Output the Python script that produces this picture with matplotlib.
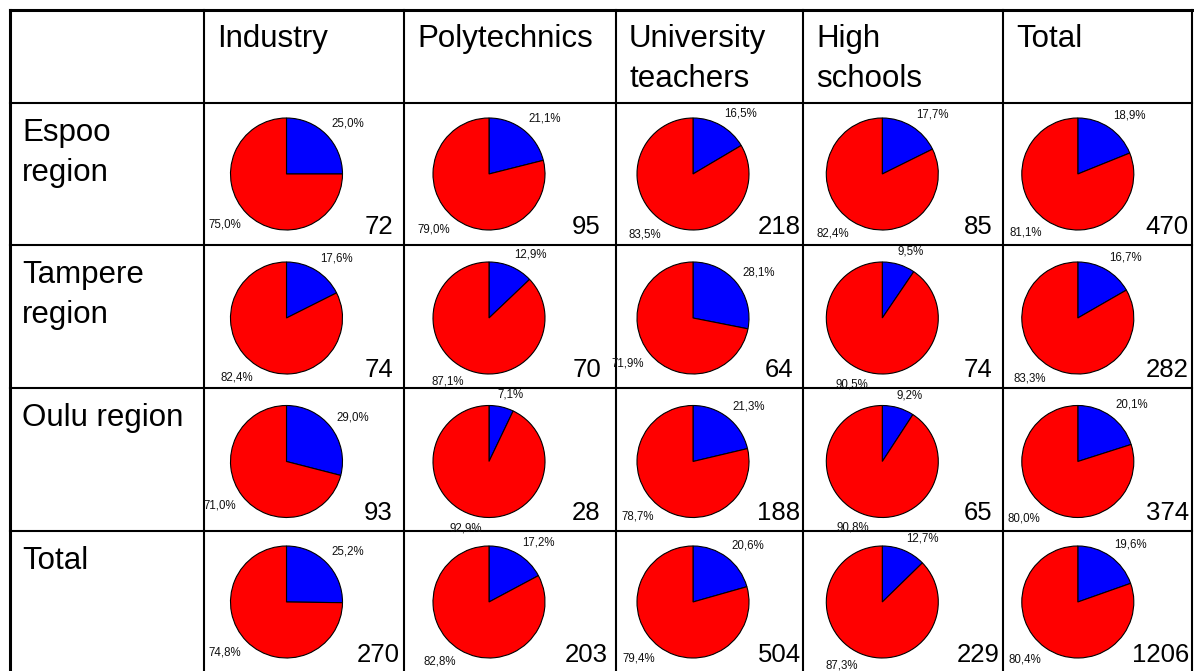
import numpy as np
import matplotlib
matplotlib.use("Agg")
import matplotlib.pyplot as plt

plt.rcParams['font.family'] = ['Liberation Sans', 'DejaVu Sans']

# data
columns = ["Industry", "Polytechnics", "University\nteachers", "High\nschools", "Total"]
regions = ["Espoo\nregion", "Tampere\nregion", "Oulu region", "Total"]

blue_pct = [
    [25.0, 21.1, 16.5, 17.7, 18.9],
    [17.6, 12.9, 28.1, 9.5, 16.7],
    [29.0, 7.1, 21.3, 9.2, 20.1],
    [25.2, 17.2, 20.6, 12.7, 19.6],
]
red_pct = [
    [75.0, 79.0, 83.5, 82.4, 81.1],
    [82.4, 87.1, 71.9, 90.5, 83.3],
    [71.0, 92.9, 78.7, 90.8, 80.0],
    [74.8, 82.8, 79.4, 87.3, 80.4],
]
counts = [
    [72, 95, 218, 85, 470],
    [74, 70, 64, 74, 282],
    [93, 28, 188, 65, 374],
    [270, 203, 504, 229, 1206],
]

# layout (pixels from top-left)
W, H = 1194, 671
col_edges = [10, 204, 404, 616, 803, 1003, 1192]
row_edges = [10, 103, 245, 388, 531, 673]
pie_dx = [82.5, 85, 77, 79.3, 74.8]      # pie centre from cell left
pie_dy = [71, 73, 73.5, 71]              # pie centre from cell top
num_dx = [174.5, 182.5, 163, 175, 186]   # count anchor from cell left
num_ha = ["center", "center", "center", "center", "right"]
radius = 56
gap = 7.5
pct_size = 8.3
pct_em = pct_size * 100 / 72
head_size = 22.5


def Y(py):
    return H - py


def fmt(v):
    return f"{v:.1f}".replace(".", ",") + "%"


def text_w(s):
    widths = {",": 0.278, "%": 0.889}
    return sum(widths.get(c, 0.556) for c in s) * pct_em


fig = plt.figure(figsize=(W / 100, H / 100), dpi=100)
ax = fig.add_axes([0, 0, 1, 1])

for i in range(len(regions)):
    for j in range(len(columns)):
        cx = col_edges[j + 1] + pie_dx[j]
        cy = row_edges[i + 1] + pie_dy[i]
        vals = [blue_pct[i][j], red_pct[i][j]]
        ax.pie(vals, colors=["#0000ff", "#ff0000"], startangle=90, counterclock=False,
               center=(cx, Y(cy)), radius=radius, frame=False,
               wedgeprops=dict(edgecolor="black", linewidth=0.8))

        # percentage labels just outside each slice
        tot = sum(vals)
        start = 0.0
        for v in vals:
            mid = np.deg2rad((start + v / 2) / tot * 360)
            start += v
            ux, uy = np.sin(mid), np.cos(mid)
            s = fmt(v)
            w = text_w(s)
            h = pct_em * 0.95
            lx = (radius + gap) * ux + np.sign(ux) * w / 2 * min(1, abs(ux) / 0.4)
            ly = (radius + gap) * uy + np.sign(uy) * h / 2
            ax.text(cx + lx, Y(cy) + ly, s, fontsize=pct_size, ha="center", va="center",
                    color="#111111", zorder=4)

        ax.text(col_edges[j + 1] + num_dx[j], Y(row_edges[i + 2] - 11), str(counts[i][j]),
                fontsize=18.5, ha=num_ha[j], va="baseline", zorder=4)

# header and row labels
for j, c in enumerate(columns):
    ax.text(col_edges[j + 1] + 13, Y(24), c, fontsize=head_size, ha="left", va="top",
            linespacing=1.42)
for i, r in enumerate(regions):
    ax.text(22, Y(row_edges[i + 1] + 15), r, fontsize=head_size, ha="left", va="top",
            linespacing=1.42)

# table grid
for k, x in enumerate(col_edges):
    lw = 2.2 if k == 0 else 1.5
    ax.plot([x, x], [Y(10), Y(H + 5)], color="black", lw=lw, zorder=3,
            solid_capstyle="projecting")
for k, y in enumerate(row_edges[:-1]):
    lw = 2.2 if k == 0 else 1.5
    ax.plot([10, 1192], [Y(y), Y(y)], color="black", lw=lw, zorder=3,
            solid_capstyle="projecting")

ax.set_xlim(0, W)
ax.set_ylim(0, H)
ax.set_aspect("equal")
ax.axis("off")

fig.savefig("out.png", dpi=100, facecolor="white")
